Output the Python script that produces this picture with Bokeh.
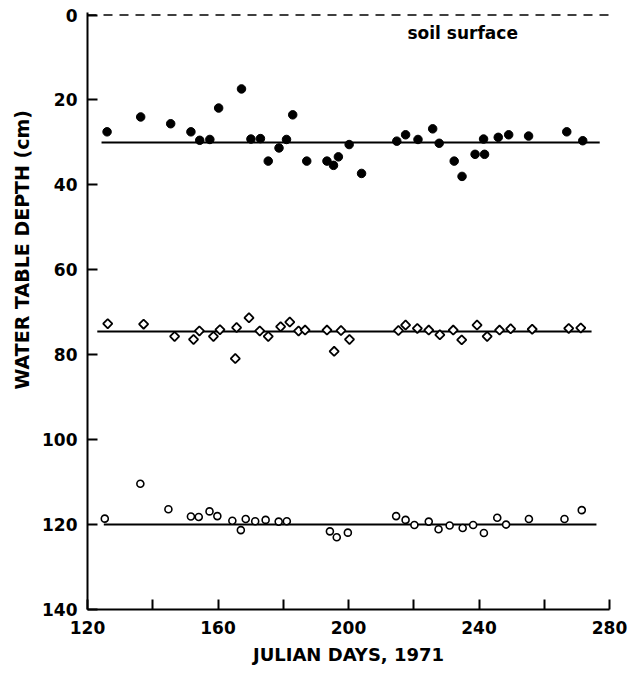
import numpy as np
from bokeh.plotting import figure
from bokeh.models import Range1d, FixedTicker, Label, Title
from bokeh.embed import file_html
from bokeh.resources import INLINE

# ---- data ----
filled_day = [126.0, 136.3, 145.5, 151.7, 154.4, 157.5, 160.2, 167.2, 170.1, 173.0,
              175.4, 178.7, 181.0, 182.9, 187.2, 193.4, 195.4, 196.9, 200.2, 204.0,
              214.8, 217.5, 221.3, 225.8, 227.8, 232.4, 234.8, 238.8, 241.7, 241.4,
              245.9, 249.1, 255.2, 266.9, 271.8]
filled_depth = [27.5, 24.0, 25.6, 27.5, 29.5, 29.3, 21.9, 17.4, 29.2, 29.1,
                34.4, 31.3, 29.3, 23.5, 34.4, 34.4, 35.4, 33.4, 30.5, 37.3,
                29.7, 28.2, 29.3, 26.8, 30.2, 34.4, 38.0, 32.8, 32.8, 29.2,
                28.8, 28.2, 28.5, 27.5, 29.6]

diamond_day = [126.2, 137.2, 146.7, 152.5, 154.3, 158.6, 160.6, 165.7, 165.3, 169.5,
               172.8, 175.4, 179.2, 182.0, 184.7, 186.7, 193.4, 195.6, 197.7, 200.3,
               215.3, 217.5, 221.1, 224.6, 228.0, 232.1, 234.7, 239.4, 242.5, 246.3,
               249.7, 256.3, 267.5, 271.2]
diamond_depth = [72.7, 72.8, 75.7, 76.4, 74.4, 75.7, 74.1, 73.6, 80.9, 71.3,
                 74.4, 75.7, 73.4, 72.3, 74.4, 74.2, 74.2, 79.2, 74.3, 76.4,
                 74.3, 73.0, 73.8, 74.2, 75.3, 74.2, 76.5, 73.0, 75.7, 74.2,
                 73.9, 74.0, 73.8, 73.7]

open_day = [125.3, 136.2, 144.8, 151.7, 154.1, 157.4, 159.8, 164.4, 167.0, 168.5,
            171.4, 174.6, 178.6, 181.1, 194.3, 196.4, 199.8, 214.6, 217.5, 220.2,
            224.6, 227.6, 231.0, 235.0, 238.2, 241.5, 245.6, 248.3, 255.3, 266.2,
            271.5]
open_depth = [118.6, 110.4, 116.4, 118.1, 118.2, 116.9, 118.0, 119.1, 121.3, 118.7,
              119.2, 118.9, 119.3, 119.2, 121.6, 123.0, 121.9, 118.0, 118.9, 120.1,
              119.3, 121.1, 120.2, 120.8, 120.1, 122.0, 118.4, 120.0, 118.7, 118.7,
              116.6]

# fitted mean lines: [start day, end day], [depth, depth]
fit_filled = ([124.3, 277.0], [30.0, 30.0])
fit_diamond = ([123.0, 274.5], [74.5, 74.5])
fit_open = ([125.0, 276.0], [120.0, 120.0])

surface_day = [120, 280]
surface_depth = [0, 0]

x_ticks = [120, 140, 160, 180, 200, 220, 240, 260, 280]
x_labels = {120: "120", 140: "", 160: "160", 180: "", 200: "200", 220: "", 240: "240", 260: "", 280: "280"}
y_ticks = [0, 20, 40, 60, 80, 100, 120, 140]

FONT = "DejaVu Sans"

p = figure(width=628, height=670, output_backend="svg", toolbar_location=None,
           x_range=Range1d(120, 280), y_range=Range1d(140, -0.6),
           min_border_left=87, min_border_right=19, min_border_top=12, min_border_bottom=61)
p.outline_line_color = None
p.grid.visible = False
p.background_fill_color = "white"

for ax in (p.xaxis, p.yaxis):
    ax.axis_line_width = 2
    ax.axis_line_color = "black"
    ax.major_tick_in = 10
    ax.major_tick_out = 0
    ax.major_tick_line_width = 2
    ax.minor_tick_line_color = None
    ax.major_label_text_font = FONT
    ax.major_label_text_font_style = "bold"
    ax.major_label_text_font_size = "17px"
    ax.major_label_text_color = "black"

p.xaxis.ticker = FixedTicker(ticks=x_ticks)
p.xaxis.major_label_overrides = x_labels
p.xaxis.major_label_standoff = 11
p.xaxis.axis_label = "JULIAN DAYS, 1971"
p.xaxis.axis_label_text_font = FONT
p.xaxis.axis_label_text_font_style = "bold"
p.xaxis.axis_label_text_font_size = "18px"
p.xaxis.axis_label_text_color = "black"
p.xaxis.axis_label_standoff = 7

p.yaxis.ticker = FixedTicker(ticks=y_ticks)
p.yaxis.major_label_standoff = 10

ytitle = Title(text="WATER TABLE DEPTH (cm)", align="left", offset=220, standoff=13,
               text_font=FONT, text_font_style="bold", text_font_size="19px", text_color="black")
p.add_layout(ytitle, "left")

# soil surface dashed line
p.line(surface_day, surface_depth, line_color="black", line_width=1.6, line_dash="9 7")
p.add_layout(Label(x=235, y=4.2, text="soil surface", text_align="center", text_baseline="middle",
                   text_font=FONT, text_font_style="bold", text_font_size="17px", text_color="black"))

# fitted lines
for xs, ys in (fit_filled, fit_diamond, fit_open):
    p.line(xs, ys, line_color="black", line_width=2)

# points
p.scatter(filled_day, filled_depth, marker="circle", size=8.5, fill_color="black", line_color="black")
p.scatter(diamond_day, diamond_depth, marker="square", angle=np.pi / 4, size=6.5,
          fill_color="white", line_color="black", line_width=1.8)
p.scatter(open_day, open_depth, marker="circle", size=7, fill_color="white",
          line_color="black", line_width=1.6)

open("out.html", "w").write(file_html(p, INLINE))
